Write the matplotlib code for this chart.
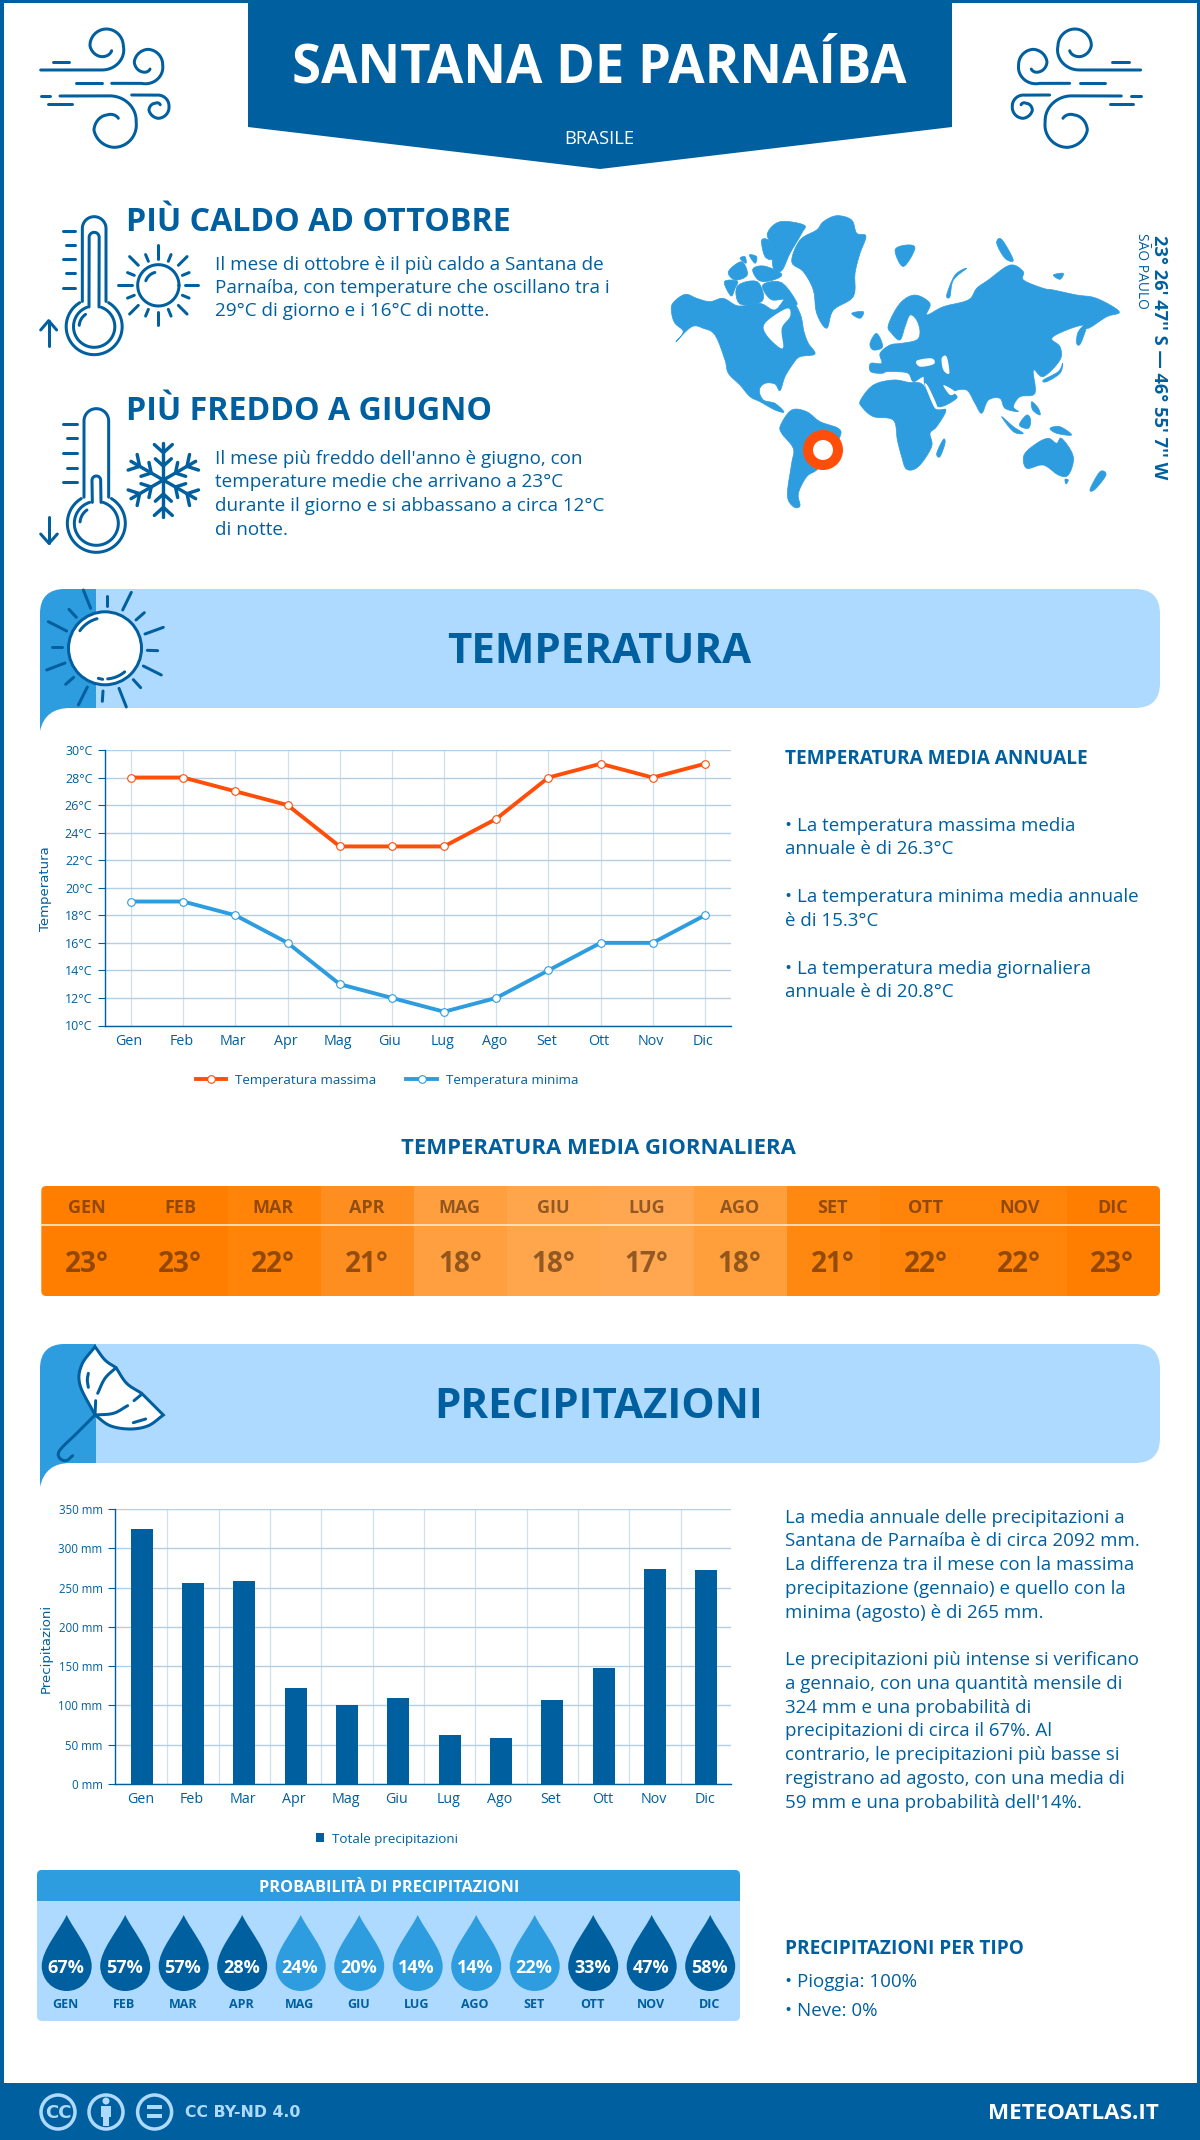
import numpy as np
import matplotlib
matplotlib.use("Agg")
import matplotlib.pyplot as plt
from matplotlib.patches import Polygon, Circle, FancyBboxPatch, PathPatch, Rectangle
from matplotlib.path import Path
from matplotlib.transforms import ScaledTranslation

plt.rcParams['font.family'] = ['Open Sans', 'DejaVu Sans']

# data
months = ["Gen", "Feb", "Mar", "Apr", "Mag", "Giu", "Lug", "Ago", "Set", "Ott", "Nov", "Dic"]
t_max = [28, 28, 27, 26, 23, 23, 23, 25, 28, 29, 28, 29]
t_min = [19, 19, 18, 16, 13, 12, 11, 12, 14, 16, 16, 18]
t_mean = [23, 23, 22, 21, 18, 18, 17, 18, 21, 22, 22, 23]
rain = [324, 256, 258, 122, 101, 110, 62, 59, 107, 148, 274, 272]
rain_prob = [67, 57, 57, 28, 24, 20, 14, 14, 22, 33, 47, 58]
temp_ticks = list(range(10, 31, 2))
rain_ticks = list(range(0, 351, 50))

# colours
DARK = "#005f9e"
MID = "#2e9ddf"
LIGHT = "#aedaff"
ORANGE = "#ff4e0a"
GRID = "#b4cfe4"
cell_colors = ["#ff7e00", "#ff7e00", "#ff8407", "#ff8e20", "#ff9f3f", "#ffa64c",
               "#ffa750", "#ff9f3c", "#ff8810", "#ff8409", "#ff8409", "#ff7e00"]

W, H = 1200, 2140
fig = plt.figure(figsize=(W / 100, H / 100), dpi=100, facecolor="white")
bg = fig.add_axes([0, 0, 1, 1])
bg.set_xlim(0, W)
bg.set_ylim(H, 0)
bg.axis("off")


def px(size):
    return size * 0.72


def label(x, y, s, size, weight="normal", color=DARK, ha="left", va="center", **kw):
    # centre of the line box sits a bit above the centre of the capitals
    dy = 0 if "rotation" in kw else size * 0.09
    return bg.text(x, y + dy, s, fontsize=px(size), fontweight=weight, color=color, ha=ha, va=va, **kw)


def smooth(points, n=14, closed=False):
    # catmull-rom through the points, just for the hand drawn icons
    p = np.array(points, dtype=float)
    if closed:
        p = np.vstack([p[-1], p, p[0], p[1]])
    else:
        p = np.vstack([2 * p[0] - p[1], p, 2 * p[-1] - p[-2]])
    out = []
    for i in range(1, len(p) - 2):
        for t in np.linspace(0, 1, n, endpoint=False):
            a, b, c, d = p[i - 1], p[i], p[i + 1], p[i + 2]
            out.append(0.5 * (2 * b + (c - a) * t + (2 * a - 5 * b + 4 * c - d) * t ** 2
                              + (3 * b - a - 3 * c + d) * t ** 3))
    out.append(p[-2])
    return np.array(out)


def stroke(pts, lw=3, color=DARK, z=3):
    pts = np.asarray(pts, dtype=float)
    bg.plot(pts[:, 0], pts[:, 1], color=color, lw=px(lw), solid_capstyle="round",
            solid_joinstyle="round", zorder=z)


def arc(cx, cy, r, a0, a1, n=60):
    a = np.radians(np.linspace(a0, a1, n))
    return np.column_stack([cx + r * np.cos(a), cy - r * np.sin(a)])


def spiral(cx, cy, angles, radii):
    a = np.linspace(angles[0], angles[-1], 90)
    r = np.interp(a, angles, radii) if angles[0] < angles[-1] else np.interp(-a, -np.array(angles), radii)
    return np.column_stack([cx + r * np.cos(np.radians(a)), cy - r * np.sin(np.radians(a))])


# page frame, header, footer
for rect in [(0, 0, 3.5, H), (W - 3.5, 0, 3.5, H), (0, 0, W, 3)]:
    bg.add_patch(Rectangle(rect[:2], rect[2], rect[3], fc=DARK, ec="none"))
bg.add_patch(Rectangle((0, 2083), W, H - 2083, fc=DARK, ec="none"))
bg.add_patch(Polygon([(248, 0), (952, 0), (952, 127), (600, 169), (248, 127)], fc=DARK, ec="none"))
label(599, 63.5, "SANTANA DE PARNAÍBA", 52.6, "bold", "white", ha="center")
label(599, 137, "BRASILE", 18.5, color="white", ha="center")


# wind icons (left one, right one mirrored)
def wind(mirror):
    def conv(pts):
        pts = np.asarray(pts, dtype=float) / 3 + [20, 10]
        if mirror:
            pts[:, 0] = 1181.3 - pts[:, 0]
        return pts
    curls = [
        ([(62, 180)], spiral(258, 108, [-100, 0, 90, 180, 270, 320], [73, 52, 51, 48, 30, 22])),
        ([(275, 220)], spiral(383, 165, [-108, 0, 90, 168, 228, 300], [58, 45, 47, 41, 27, 14])),
        ([(120, 258)], spiral(282, 345, [101, 8, -90, -166, -234, -303], [89, 67, 67, 62, 37, 24])),
        ([(335, 255)], spiral(415, 290, [98, 0, -90, -160, -225, -315], [35, 32, 35, 30, 14, 8])),
    ]
    for start, c in curls:
        stroke(conv(np.vstack([start, c])), 3)
    for d in [[(168, 220), (245, 220)], [(98, 155), (148, 155)], [(62, 258), (90, 258)], [(85, 283), (155, 283)]]:
        stroke(conv(d), 3)


wind(False)
wind(True)


# thermometers
def z5(pts):
    return np.asarray(pts, dtype=float) / 3 + [20, 190]


def thermo(x0, x1, top, cy, r, ix0, ix1, itop, ir, ticks):
    xc = (x0 + x1) / 2
    tube_r = (x1 - x0) / 2
    gap = np.degrees(np.arcsin(tube_r / r))
    stroke(z5(np.vstack([[(x0, cy - r * 0.9)], arc(xc, top + tube_r, tube_r, 180, 0), [(x1, cy - r * 0.9)]])), 3)
    stroke(z5(arc(xc, cy, r, 90 - gap - 6, -270 + gap + 6)), 3)
    in_r = (ix1 - ix0) / 2
    gap2 = np.degrees(np.arcsin(in_r / ir))
    stroke(z5(np.vstack([[(ix0, cy - ir * 0.95)], arc(xc, itop + in_r, in_r, 180, 0), [(ix1, cy - ir * 0.95)]])), 3)
    stroke(z5(arc(xc, cy, ir, 90 - gap2 - 6, -270 + gap2 + 6)), 3)
    stroke(z5(arc(xc, cy, ir - 17, 125, 175, 20)), 3)
    for (a, b, y) in ticks:
        stroke(z5([(a, y), (b, y)]), 3)


thermo(187, 258, 80, 410, 84, 207, 237, 127, 62,
       [(128, 165, 123), (138, 165, 165), (128, 165, 208), (138, 165, 250), (128, 165, 293)])
stroke(z5([(86, 468), (86, 392)]), 3)
stroke(z5([(62, 420), (86, 392), (110, 420)]), 3)
thermo(192, 266, 656, 1000, 87, 217, 243, 858, 66,
       [(130, 170, 701), (140, 170, 745), (130, 170, 789), (140, 170, 833), (130, 170, 877)])
stroke(z5([(87, 980), (87, 1060)]), 3)
stroke(z5([(62, 1032), (87, 1060), (112, 1032)]), 3)

# little sun
stroke(z5(arc(415, 286, 62, 0, 360)), 3)
stroke(z5(arc(415, 286, 40, 105, 160, 20)), 3)
for k in range(16):
    a = np.radians(k * 22.5)
    r0, r1 = (80, 120) if k % 2 == 0 else (78, 100)
    if k % 4 == 2:
        r0, r1 = 85, 122
    stroke(z5([(415 + r0 * np.cos(a), 286 - r0 * np.sin(a)), (415 + r1 * np.cos(a), 286 - r1 * np.sin(a))]), 3)

# snowflake
for k in range(6):
    a = np.radians(90 + k * 60)
    d = np.array([np.cos(a), -np.sin(a)])
    n = np.array([-d[1], d[0]])
    c = np.array([430, 870])
    stroke(z5([c, c + d * 112]), 3.4)
    for dist, size in [(42, 24), (82, 27)]:
        stroke(z5([c + d * dist + d * size * 0.9 + n * size, c + d * dist, c + d * dist + d * size * 0.9 - n * size]), 3.4)

label(126, 219.5, "PIÙ CALDO AD OTTOBRE", 32.2, "bold")
for y, s in zip([263, 286, 309], ["Il mese di ottobre è il più caldo a Santana de",
                                  "Parnaíba, con temperature che oscillano tra i",
                                  "29°C di giorno e i 16°C di notte."]):
    label(215, y, s, 18.85)
label(126, 409, "PIÙ FREDDO A GIUGNO", 32.2, "bold")
for y, s in zip([457, 480, 504, 528], ["Il mese più freddo dell'anno è giugno, con",
                                       "temperature medie che arrivano a 23°C",
                                       "durante il giorno e si abbassano a circa 12°C",
                                       "di notte."]):
    label(215, y, s, 18.85)


# world map, rough outline
def z4(pts):
    return np.asarray(pts, dtype=float) / 3 + [660, 200]


land = [
    # north america
    [(38, 310), (75, 283), (110, 295), (150, 305), (190, 295), (235, 318), (300, 310), (345, 330), (385, 290),
     (420, 340), (432, 395), (445, 430), (465, 462), (420, 470), (400, 490), (375, 530), (360, 572), (345, 552),
     (315, 550), (298, 570), (310, 600), (345, 610), (372, 636), (345, 630), (300, 605), (270, 590), (240, 555),
     (205, 520), (195, 480), (165, 405), (130, 385), (95, 380), (48, 425), (70, 395), (45, 370), (35, 340)],
    # greenland
    [(490, 65), (530, 47), (575, 60), (590, 100), (618, 108), (600, 160), (585, 220), (580, 290), (520, 330),
     (500, 385), (470, 340), (460, 270), (430, 215), (395, 185), (420, 120), (470, 90)],
    # arctic islands
    [(322, 100), (360, 65), (432, 75), (425, 100), (390, 160), (365, 212), (340, 205), (335, 140)],
    [(305, 120), (330, 125), (340, 175), (315, 170)],
    [(205, 215), (245, 185), (262, 225), (225, 240)],
    [(193, 245), (232, 243), (225, 265), (213, 288)],
    [(232, 258), (292, 245), (308, 302), (240, 312)],
    [(278, 208), (312, 198), (365, 222), (340, 240), (298, 242)],
    [(308, 255), (365, 248), (412, 312), (375, 298), (332, 298)],
    [(240, 175), (255, 170), (258, 190)],
    [(268, 165), (290, 170), (285, 190)],
    # south america
    [(362, 675), (395, 630), (440, 635), (480, 665), (535, 685), (540, 710), (505, 770), (470, 810), (440, 830),
     (415, 880), (420, 918), (400, 920), (382, 885), (395, 790), (400, 745), (365, 700)],
    # africa
    [(602, 600), (640, 555), (700, 540), (745, 547), (790, 555), (825, 625), (858, 630), (830, 680), (810, 700),
     (815, 740), (775, 800), (740, 808), (725, 770), (712, 720), (700, 660), (640, 650), (605, 620)],
    # eurasia
    [(632, 490), (665, 490), (660, 460), (690, 435), (725, 430), (770, 420), (780, 395), (770, 360), (750, 345),
     (735, 380), (720, 420), (695, 400), (685, 375), (720, 310), (765, 285), (810, 310), (800, 345), (850, 320),
     (925, 300), (950, 265), (985, 240), (1050, 195), (1090, 215), (1090, 240), (1150, 265), (1180, 270),
     (1250, 285), (1310, 295), (1378, 335), (1340, 350), (1285, 385), (1270, 375), (1220, 390), (1175, 415),
     (1200, 440), (1200, 480), (1150, 530), (1120, 510), (1125, 580), (1080, 590), (1060, 620), (1075, 635),
     (1035, 625), (1020, 595), (985, 600), (965, 640), (945, 610), (920, 570), (880, 575), (890, 595), (830, 620),
     (795, 555), (790, 530), (760, 545), (745, 520), (710, 515), (680, 515), (665, 520), (632, 515)],
    # australia
    [(1092, 765), (1130, 730), (1165, 715), (1190, 730), (1205, 715), (1240, 770), (1225, 825), (1195, 825),
     (1150, 795), (1100, 805)],
    # islands
    [(1215, 838), (1225, 840), (1218, 852)],
    [(830, 760), (850, 718), (855, 730), (840, 770)],
    [(1290, 868), (1320, 815), (1338, 825), (1305, 868)],
    [(1025, 650), (1060, 680), (1090, 700), (1060, 695)],
    [(1078, 675), (1100, 645), (1112, 660), (1105, 685)],
    [(1170, 685), (1200, 680), (1235, 705), (1190, 700)],
    [(1115, 605), (1135, 625), (1140, 645), (1118, 630)],
    [(1150, 540), (1195, 515), (1208, 490), (1200, 520), (1160, 545)],
    [(1250, 430), (1255, 395), (1282, 370), (1262, 430)],
    [(1010, 130), (1025, 118), (1060, 180), (1035, 175)],
    [(705, 150), (740, 135), (765, 145), (730, 200)],
    [(575, 340), (610, 335), (600, 355)],
    [(630, 430), (650, 400), (668, 440), (640, 450)],
    [(860, 285), (885, 225), (920, 205), (880, 240), (870, 290)],
    [(1180, 225), (1210, 220), (1200, 238)],
]
for poly in land:
    bg.add_patch(Polygon(z4(smooth(poly, 5, closed=True)), fc=MID, ec=MID, lw=0.5, joinstyle="round"))
holes = [
    [(312, 375), (345, 345), (385, 325), (390, 350), (365, 385), (370, 440), (355, 440), (320, 405)],
    [(770, 482), (815, 475), (822, 492), (780, 500)],
    [(845, 475), (860, 470), (868, 520), (850, 510)],
    [(795, 555), (805, 560), (832, 620), (822, 620)],
    [(850, 555), (885, 575), (870, 585)],
]
for poly in holes:
    bg.add_patch(Polygon(z4(smooth(poly, 5, closed=True)), fc="white", ec="none", zorder=2))
bg.add_patch(Circle((823, 450), 15, fc="white", ec=ORANGE, lw=px(10), zorder=4))
label(1159.5, 357, "23° 26' 47'' S — 46° 55' 7'' W", 18.3, "bold", rotation=-90, ha="center")
label(1141.5, 271, "SÃO PAULO", 13.7, rotation=-90, ha="center")


# banners
def banner(top, bottom, tail, title, tx=599):
    band = FancyBboxPatch((40 + 25, top + 25), 1120 - 50, bottom - top - 50,
                          boxstyle="round,pad=25", fc=LIGHT, ec="none")
    bg.add_patch(band)
    left = Path([(96, top), (65, top), (40, top), (40, top + 25), (40, tail), (45, bottom), (70, bottom),
                 (96, bottom), (96, top)],
                [Path.MOVETO, Path.LINETO, Path.CURVE3, Path.CURVE3, Path.LINETO, Path.CURVE3, Path.CURVE3,
                 Path.LINETO, Path.CLOSEPOLY])
    bg.add_patch(PathPatch(left, fc=MID, ec="none"))
    label(tx, (top + bottom) / 2, title, 42, "bold", ha="center")


banner(589, 708, 731, "TEMPERATURA")
banner(1344, 1463, 1487, "PRECIPITAZIONI")


# sun in the banner
def z7(pts):
    return np.asarray(pts, dtype=float) / 3 + [30, 585]


bg.add_patch(Circle((105, 648.3), 36.5, fc="white", ec=DARK, lw=px(3), zorder=3))
stroke(z7(arc(225, 190, 92, 105, 145, 20)), 3)
stroke(z7(arc(225, 190, 92, -85, -50, 20)), 3)
stroke(z7([(205, 280), (218, 283)]), 3)
for seg in [[(160, 15), (182, 70)], [(231, 33), (231, 63)], [(304, 22), (278, 75)], [(343, 83), (318, 105)],
            [(400, 127), (345, 147)], [(352, 196), (383, 197)], [(340, 243), (394, 270)], [(310, 284), (332, 308)],
            [(267, 310), (289, 366)], [(219, 318), (217, 349)], [(172, 306), (145, 360)], [(131, 277), (107, 298)],
            [(105, 234), (50, 255)], [(97, 185), (67, 185)], [(110, 138), (55, 110)], [(139, 97), (117, 73)]]:
    stroke(z7(seg), 3)


# umbrella in the banner
def z8(pts):
    return np.asarray(pts, dtype=float) / 3 + [30, 1335]


canopy = np.vstack([smooth([(195, 35), (155, 90), (150, 150), (195, 240)]),
                    smooth([(195, 240), (240, 272), (300, 282), (355, 272), (400, 240)]),
                    smooth([(400, 240), (365, 205), (335, 175)]),
                    smooth([(335, 175), (290, 145), (258, 98)]),
                    smooth([(258, 98), (225, 75), (195, 35)])])
bg.add_patch(Polygon(z8(canopy), fc="white", ec=DARK, lw=px(3), zorder=3))
stroke(z8(smooth([(258, 98), (225, 130), (203, 175)])), 3, z=4)
stroke(z8(smooth([(197, 197), (195, 240)])), 3, z=4)
stroke(z8(smooth([(195, 240), (250, 235), (293, 212)])), 3, z=4)
stroke(z8([(312, 197), (335, 178)]), 3, z=4)
stroke(z8(smooth([(175, 115), (172, 135), (175, 157)])), 3, z=4)
stroke(z8([(310, 263), (347, 252)]), 3, z=4)
stroke(z8(smooth([(195, 240), (140, 295), (90, 345), (88, 368), (108, 377), (128, 362)])), 3, z=4)


def chart_axes(left, top, right, bottom, ysize):
    ax = fig.add_axes([left / W, 1 - bottom / H, (right - left) / W, (bottom - top) / H])
    ax.patch.set_alpha(0)
    for name in ["top", "right"]:
        ax.spines[name].set_visible(False)
    for name in ["left", "bottom"]:
        ax.spines[name].set_color(DARK)
        ax.spines[name].set_linewidth(1.0)
    ax.tick_params(axis="y", length=5, width=0.8, color=DARK, labelcolor=DARK, labelsize=ysize, pad=4)
    ax.tick_params(axis="x", length=0, labelcolor=DARK, labelsize=10.3, pad=6)
    return ax


def nudge_month_labels(ax, dx):
    for lbl in ax.get_xticklabels():
        lbl.set_transform(lbl.get_transform() + ScaledTranslation(dx / 100, 0, fig.dpi_scale_trans))


# temperature chart
ax1 = chart_axes(105, 750, 731, 1025.5, 9)
ax1.set_xlim(-0.5, 11.5)
ax1.set_ylim(10, 30)
ax1.set_axisbelow(True)
ax1.grid(axis="y", color=GRID, lw=1.0)
ax1.grid(axis="x", color="#cfe0ee", lw=0.9)
ax1.set_yticks(temp_ticks)
ax1.set_yticklabels([f"{v}°C" for v in temp_ticks])
ax1.set_xticks(range(12))
ax1.set_xticklabels(months)
nudge_month_labels(ax1, -2)
ax1.plot(range(12), t_max, color=ORANGE, lw=2.8, marker="o", ms=5.5, mfc="white", mec=ORANGE, mew=0.8,
         label="Temperatura massima", clip_on=False)
ax1.plot(range(12), t_min, color=MID, lw=2.8, marker="o", ms=5.5, mfc="white", mec=MID, mew=0.8,
         label="Temperatura minima", clip_on=False)
ax1.legend(loc="center", bbox_to_anchor=(387 / W, 1 - 1080.5 / H), bbox_transform=fig.transFigure, ncol=2,
           frameon=False, fontsize=9.65, handlelength=2.3, handletextpad=0.67, columnspacing=2.2,
           labelcolor=DARK)
label(46, 889, "Temperatura", 13.2, rotation=90, ha="center", family="DejaVu Sans")

# daily mean table
tx0, tx1 = 41.3, 1160
cw = (tx1 - tx0) / 12
clip = FancyBboxPatch((tx0 + 5, 1186 + 5), tx1 - tx0 - 10, 110 - 10, boxstyle="round,pad=5", fc="none", ec="none")
bg.add_patch(clip)
for i, v in enumerate(t_mean):
    cell = Rectangle((tx0 + i * cw, 1186), cw + 0.5, 110, fc=cell_colors[i], ec="none")
    bg.add_patch(cell)
    cell.set_clip_path(clip)
    label(tx0 + (i + 0.5) * cw - 1, 1206, months[i].upper(), 18, "bold", "#3a1a00", ha="center", alpha=0.55)
    label(tx0 + (i + 0.5) * cw - 1, 1261.5, f"{v}°", 28, "bold", "#3a1a00", ha="center", alpha=0.55)
bg.plot([tx0, tx1], [1225, 1225], color="#ffe9cf", lw=1.2, zorder=3)
label(598, 1147, "TEMPERATURA MEDIA GIORNALIERA", 22.2, "bold", ha="center")

# side text of temperature
label(785, 757, "TEMPERATURA MEDIA ANNUALE", 19, "bold")
for y, s in zip([824.5, 847, 895.5, 919, 967, 990],
                ["• La temperatura massima media", "annuale è di 26.3°C",
                 "• La temperatura minima media annuale", "è di 15.3°C",
                 "• La temperatura media giornaliera", "annuale è di 20.8°C"]):
    label(785, y, s, 18.8)

# rain chart
ax2 = chart_axes(115, 1509, 731, 1784, 8.3)
ax2.set_xlim(-0.52, 11.48)
ax2.set_ylim(0, 350)
ax2.set_axisbelow(True)
ax2.grid(axis="y", color=GRID, lw=1.0)
ax2.set_yticks(rain_ticks)
ax2.set_yticklabels([f"{v} mm" for v in rain_ticks])
ax2.set_xticks(range(12))
ax2.set_xticklabels(months)
nudge_month_labels(ax2, -1.5)
for b in np.arange(0.5, 11.5):
    ax2.axvline(b, color="#cfe0ee", lw=0.9, zorder=0)
ax2.bar(range(12), rain, width=0.43, color=DARK, label="Totale precipitazioni")
ax2.legend(loc="center", bbox_to_anchor=(387 / W, 1 - 1839 / H), bbox_transform=fig.transFigure, frameon=False,
           fontsize=9.6, handlelength=0.65, handleheight=0.65, handletextpad=0.6, labelcolor=DARK)
label(46, 1648, "Precipitazioni", 13.2, rotation=90, ha="center", family="DejaVu Sans")

for y, s in zip([1516, 1539, 1563, 1587, 1611, 1658, 1682, 1706, 1729.5, 1753.5, 1777.5, 1801],
                ["La media annuale delle precipitazioni a", "Santana de Parnaíba è di circa 2092 mm.",
                 "La differenza tra il mese con la massima", "precipitazione (gennaio) e quello con la",
                 "minima (agosto) è di 265 mm.",
                 "Le precipitazioni più intense si verificano", "a gennaio, con una quantità mensile di",
                 "324 mm e una probabilità di", "precipitazioni di circa il 67%. Al",
                 "contrario, le precipitazioni più basse si", "registrano ad agosto, con una media di",
                 "59 mm e una probabilità dell'14%."]):
    label(785, y, s, 18.8)

# probability panel
bg.add_patch(FancyBboxPatch((42, 1875), 693, 141, boxstyle="round,pad=5", fc=LIGHT, ec="none"))
head = FancyBboxPatch((42, 1875), 693, 141, boxstyle="round,pad=5", fc=MID, ec="none")
bg.add_patch(head)
head.set_clip_path(Rectangle((0, 1860), W, 41, transform=bg.transData))
label(389, 1887, "PROBABILITÀ DI PRECIPITAZIONI", 16.2, "bold", "white", ha="center")
drop_verts = [(0, -51), (-7, -36), (-25, -16), (-25, 0), (-25, 14), (-14, 25), (0, 25), (14, 25), (25, 14), (25, 0),
              (25, -16), (7, -36), (0, -51), (0, -51)]
drop_codes = [Path.MOVETO, Path.CURVE4, Path.CURVE4, Path.CURVE4, Path.CURVE4, Path.CURVE4, Path.CURVE4,
              Path.CURVE4, Path.CURVE4, Path.CURVE4, Path.CURVE4, Path.CURVE4, Path.CURVE4, Path.CLOSEPOLY]
for i, p in enumerate(rain_prob):
    cx = 66.7 + i * 58.5
    verts = np.array(drop_verts, dtype=float) + [cx, 1966]
    bg.add_patch(PathPatch(Path(verts, drop_codes), fc=DARK if p >= 28 else MID, ec="none"))
    label(cx - 1, 1966, f"{p}%", 18, "bold", "white", ha="center", zorder=4)
    label(cx - 1, 2003.5, months[i].upper(), 12.5, "bold", ha="center")

label(785, 1947, "PRECIPITAZIONI PER TIPO", 19, "bold")
label(785, 1980.5, "• Pioggia: 100%", 18.8)
label(785, 2009, "• Neve: 0%", 18.8)

# footer
for cx in [58, 106, 154.6]:
    bg.add_patch(Circle((cx, 2112), 17, fc=DARK, ec=LIGHT, lw=px(3.5)))
label(58, 2111, "CC", 18, "bold", LIGHT, ha="center", family="DejaVu Sans")
bg.add_patch(Circle((106, 2101), 3.5, fc=LIGHT, ec="none"))
bg.add_patch(Rectangle((101, 2106), 10, 11, fc=LIGHT, ec="none"))
bg.add_patch(Rectangle((103, 2116), 6, 10, fc=LIGHT, ec="none"))
bg.add_patch(Rectangle((147, 2105), 15, 4, fc=LIGHT, ec="none"))
bg.add_patch(Rectangle((147, 2114), 15, 4, fc=LIGHT, ec="none"))
label(185, 2111, "CC BY-ND 4.0", 15.7, "bold", LIGHT, family="DejaVu Sans")
label(1158.6, 2111, "METEOATLAS.IT", 22.4, "bold", "white", ha="right")

fig.savefig("out.png", dpi=100, facecolor="white")
